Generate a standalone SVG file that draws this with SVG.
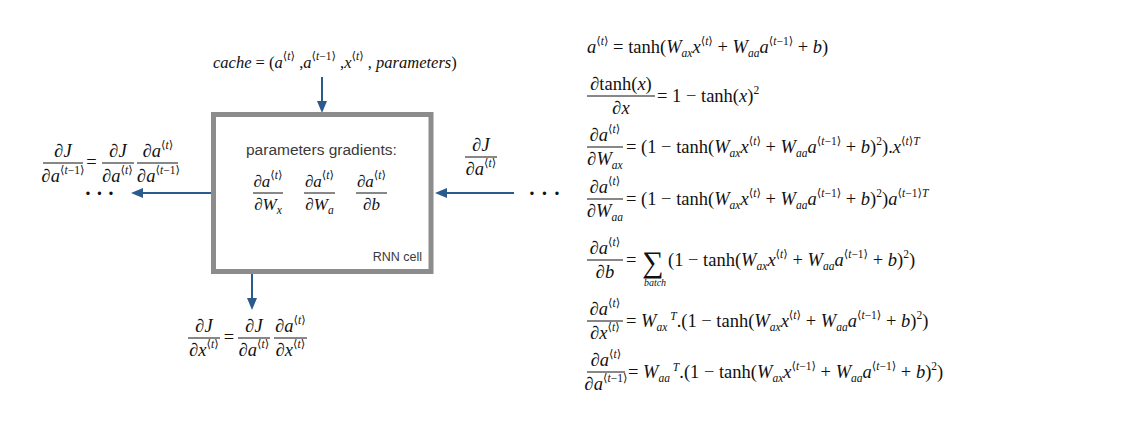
<svg xmlns="http://www.w3.org/2000/svg" width="1137" height="429" viewBox="0 0 1137 429">
<defs>
<style>
.m{font-family:"Liberation Serif","DejaVu Sans",serif;font-size:18.5px;fill:#111}
.f17{font-size:17px}
.f16{font-size:16.5px}
.f10{font-size:10px}
.f28{font-size:30px}
.i{font-style:italic}
.n{font-style:normal}
.s{font-size:11.5px}
.fr{stroke:#111;stroke-width:1}
.ar{stroke:#2b5a8c;stroke-width:2;fill:none;marker-end:url(#ah)}
.sf{font-family:"Liberation Sans","DejaVu Sans",sans-serif;fill:#3a3a3a}
.dots{font-family:"Liberation Sans",sans-serif;font-size:12.5px;fill:#111}
</style>
<marker id="ah" viewBox="0 0 12 10" refX="4" refY="5" markerWidth="12" markerHeight="10" markerUnits="userSpaceOnUse" orient="auto">
<path d="M0,0 L12,5 L0,10 z" fill="#2b5a8c"/>
</marker>
</defs>
<rect width="1137" height="429" fill="#fff"/>

<g id="connectors">
<line class="ar" x1="322" y1="77" x2="322" y2="105"/>
<line class="ar" x1="211" y1="193" x2="139" y2="193"/>
<line class="ar" x1="514" y1="193" x2="443" y2="193"/>
<line class="ar" x1="252" y1="274" x2="252" y2="302"/>
</g>

<g id="rnn-cell">
<rect x="213.5" y="114.5" width="217.5" height="157" fill="#fff" stroke="#8c8c8c" stroke-width="5"/>
<text class="sf" x="246" y="155" font-size="15.5">parameters gradients:</text>
<text class="m f17" x="268" y="187" text-anchor="middle">∂<tspan class="i">a</tspan><tspan class="s" dy="-8">⟨<tspan class="i">t</tspan>⟩</tspan></text>
<line class="fr" x1="253" y1="193" x2="283" y2="193"/>
<text class="m f17" x="268" y="210" text-anchor="middle">∂<tspan class="i">W</tspan><tspan class="s i" dy="4">x</tspan></text>
<text class="m f17" x="319.5" y="187" text-anchor="middle">∂<tspan class="i">a</tspan><tspan class="s" dy="-8">⟨<tspan class="i">t</tspan>⟩</tspan></text>
<line class="fr" x1="304" y1="193" x2="335" y2="193"/>
<text class="m f17" x="319.5" y="210" text-anchor="middle">∂<tspan class="i">W</tspan><tspan class="s i" dy="4">a</tspan></text>
<text class="m f17" x="371.5" y="187" text-anchor="middle">∂<tspan class="i">a</tspan><tspan class="s" dy="-8">⟨<tspan class="i">t</tspan>⟩</tspan></text>
<line class="fr" x1="356" y1="193" x2="387" y2="193"/>
<text class="m f17" x="371.5" y="210" text-anchor="middle">∂<tspan class="i">b</tspan></text>
<text class="sf" x="422" y="261" font-size="12.5" text-anchor="end" fill="#444">RNN cell</text>
</g>

<g id="label-cache">
<text class="m f16 i" x="213" y="68">cache<tspan class="n"> = (</tspan>a<tspan class="s n" dy="-8">⟨<tspan class="i">t</tspan>⟩</tspan><tspan class="n" dy="8"> ,</tspan>a<tspan class="s n" dy="-8">⟨<tspan class="i">t</tspan>−1⟩</tspan><tspan class="n" dy="8"> ,</tspan>x<tspan class="s n" dy="-8">⟨<tspan class="i">t</tspan>⟩</tspan><tspan class="n" dy="8"> ,</tspan> parameters<tspan class="n">)</tspan></text>
</g>

<g id="label-left">
<text class="m" x="63" y="157" text-anchor="middle">∂<tspan class="i">J</tspan></text>
<line class="fr" x1="43" y1="163" x2="83" y2="163"/>
<text class="m" x="63" y="182" text-anchor="middle">∂<tspan class="i">a</tspan><tspan class="s" dy="-8">⟨<tspan class="i">t</tspan>−1⟩</tspan></text>
<text class="m" x="91.5" y="168" text-anchor="middle">=</text>
<text class="m" x="118" y="157" text-anchor="middle">∂<tspan class="i">J</tspan></text>
<line class="fr" x1="102" y1="163" x2="134" y2="163"/>
<text class="m" x="117.5" y="182" text-anchor="middle">∂<tspan class="i">a</tspan><tspan class="s" dy="-8">⟨<tspan class="i">t</tspan>⟩</tspan></text>
<text class="m" x="158" y="157" text-anchor="middle">∂<tspan class="i">a</tspan><tspan class="s" dy="-8">⟨<tspan class="i">t</tspan>⟩</tspan></text>
<line class="fr" x1="137" y1="163" x2="178" y2="163"/>
<text class="m" x="158.5" y="182" text-anchor="middle">∂<tspan class="i">a</tspan><tspan class="s" dy="-8">⟨<tspan class="i">t</tspan>−1⟩</tspan></text>
<text class="dots" x="88 99.5 111" y="197.5" text-anchor="middle">•••</text>
</g>

<g id="label-right">
<text class="m" x="481" y="151" text-anchor="middle">∂<tspan class="i">J</tspan></text>
<line class="fr" x1="465" y1="157" x2="497" y2="157"/>
<text class="m" x="481" y="175" text-anchor="middle">∂<tspan class="i">a</tspan><tspan class="s" dy="-8">⟨<tspan class="i">t</tspan>⟩</tspan></text>
<text class="dots" x="532 544.5 557" y="197.5" text-anchor="middle">•••</text>
</g>

<g id="label-bottom">
<text class="m" x="204" y="332" text-anchor="middle">∂<tspan class="i">J</tspan></text>
<line class="fr" x1="188" y1="338" x2="220" y2="338"/>
<text class="m" x="204" y="356" text-anchor="middle">∂<tspan class="i">x</tspan><tspan class="s" dy="-8">⟨<tspan class="i">t</tspan>⟩</tspan></text>
<text class="m" x="229" y="343" text-anchor="middle">=</text>
<text class="m" x="254" y="332" text-anchor="middle">∂<tspan class="i">J</tspan></text>
<line class="fr" x1="238" y1="338" x2="270" y2="338"/>
<text class="m" x="254" y="356" text-anchor="middle">∂<tspan class="i">a</tspan><tspan class="s" dy="-8">⟨<tspan class="i">t</tspan>⟩</tspan></text>
<text class="m" x="290.5" y="332" text-anchor="middle">∂<tspan class="i">a</tspan><tspan class="s" dy="-8">⟨<tspan class="i">t</tspan>⟩</tspan></text>
<line class="fr" x1="274" y1="338" x2="307" y2="338"/>
<text class="m" x="290.5" y="356" text-anchor="middle">∂<tspan class="i">x</tspan><tspan class="s" dy="-8">⟨<tspan class="i">t</tspan>⟩</tspan></text>
</g>

<g id="equations">
<text class="m" x="587" y="53"><tspan class="i">a</tspan><tspan class="s" dy="-8">⟨<tspan class="i">t</tspan>⟩</tspan><tspan dy="8"> = tanh(</tspan><tspan class="i">W</tspan><tspan class="s i" dy="4">ax</tspan><tspan class="i" dy="-4">x</tspan><tspan class="s" dy="-8">⟨<tspan class="i">t</tspan>⟩</tspan><tspan dy="8"> + </tspan><tspan class="i">W</tspan><tspan class="s i" dy="4">aa</tspan><tspan class="i" dy="-4">a</tspan><tspan class="s" dy="-8">⟨<tspan class="i">t</tspan>−1⟩</tspan><tspan dy="8"> + </tspan><tspan class="i">b</tspan>)</text>

<text class="m" x="621" y="90" text-anchor="middle">∂tanh(<tspan class="i">x</tspan>)</text>
<line class="fr" x1="587" y1="96" x2="655" y2="96"/>
<text class="m" x="621" y="114" text-anchor="middle">∂<tspan class="i">x</tspan></text>
<text class="m" x="657" y="102">= 1 − tanh(<tspan class="i">x</tspan>)<tspan class="s" dy="-8">2</tspan></text>

<text class="m" x="605" y="141" text-anchor="middle">∂<tspan class="i">a</tspan><tspan class="s" dy="-8">⟨<tspan class="i">t</tspan>⟩</tspan></text>
<line class="fr" x1="587" y1="147" x2="623" y2="147"/>
<text class="m" x="605" y="165" text-anchor="middle">∂<tspan class="i">W</tspan><tspan class="s i" dy="4">ax</tspan></text>
<text class="m" x="626" y="153">= (1 − tanh(<tspan class="i">W</tspan><tspan class="s i" dy="4">ax</tspan><tspan class="i" dy="-4">x</tspan><tspan class="s" dy="-8">⟨<tspan class="i">t</tspan>⟩</tspan><tspan dy="8"> + </tspan><tspan class="i">W</tspan><tspan class="s i" dy="4">aa</tspan><tspan class="i" dy="-4">a</tspan><tspan class="s" dy="-8">⟨<tspan class="i">t</tspan>−1⟩</tspan><tspan dy="8"> + </tspan><tspan class="i">b</tspan>)<tspan class="s" dy="-8">2</tspan><tspan dy="8">).</tspan><tspan class="i">x</tspan><tspan class="s" dy="-8">⟨<tspan class="i">t</tspan>⟩<tspan class="i">T</tspan></tspan></text>

<text class="m" x="605" y="193" text-anchor="middle">∂<tspan class="i">a</tspan><tspan class="s" dy="-8">⟨<tspan class="i">t</tspan>⟩</tspan></text>
<line class="fr" x1="587" y1="199" x2="623" y2="199"/>
<text class="m" x="605" y="217" text-anchor="middle">∂<tspan class="i">W</tspan><tspan class="s i" dy="4">aa</tspan></text>
<text class="m" x="626" y="205">= (1 − tanh(<tspan class="i">W</tspan><tspan class="s i" dy="4">ax</tspan><tspan class="i" dy="-4">x</tspan><tspan class="s" dy="-8">⟨<tspan class="i">t</tspan>⟩</tspan><tspan dy="8"> + </tspan><tspan class="i">W</tspan><tspan class="s i" dy="4">aa</tspan><tspan class="i" dy="-4">a</tspan><tspan class="s" dy="-8">⟨<tspan class="i">t</tspan>−1⟩</tspan><tspan dy="8"> + </tspan><tspan class="i">b</tspan>)<tspan class="s" dy="-8">2</tspan><tspan dy="8">)</tspan><tspan class="i">a</tspan><tspan class="s" dy="-8">⟨<tspan class="i">t</tspan>−1⟩<tspan class="i">T</tspan></tspan></text>

<text class="m" x="605" y="254" text-anchor="middle">∂<tspan class="i">a</tspan><tspan class="s" dy="-8">⟨<tspan class="i">t</tspan>⟩</tspan></text>
<line class="fr" x1="587" y1="260" x2="623" y2="260"/>
<text class="m" x="605" y="278" text-anchor="middle">∂<tspan class="i">b</tspan></text>
<text class="m" x="626" y="266">=</text>
<text class="m f28" x="653" y="272" text-anchor="middle">∑</text>
<text class="m f10 i" x="655" y="286" text-anchor="middle">batch</text>
<text class="m" x="668" y="266">(1 − tanh(<tspan class="i">W</tspan><tspan class="s i" dy="4">ax</tspan><tspan class="i" dy="-4">x</tspan><tspan class="s" dy="-8">⟨<tspan class="i">t</tspan>⟩</tspan><tspan dy="8"> + </tspan><tspan class="i">W</tspan><tspan class="s i" dy="4">aa</tspan><tspan class="i" dy="-4">a</tspan><tspan class="s" dy="-8">⟨<tspan class="i">t</tspan>−1⟩</tspan><tspan dy="8"> + </tspan><tspan class="i">b</tspan>)<tspan class="s" dy="-8">2</tspan><tspan dy="8">)</tspan></text>

<text class="m" x="605" y="315" text-anchor="middle">∂<tspan class="i">a</tspan><tspan class="s" dy="-8">⟨<tspan class="i">t</tspan>⟩</tspan></text>
<line class="fr" x1="587" y1="321" x2="623" y2="321"/>
<text class="m" x="605" y="339" text-anchor="middle">∂<tspan class="i">x</tspan><tspan class="s" dy="-8">⟨<tspan class="i">t</tspan>⟩</tspan></text>
<text class="m" x="626" y="327">= <tspan class="i">W</tspan><tspan class="s i" dy="4">ax</tspan><tspan class="s i" dy="-11"> T</tspan><tspan dy="7">.(1 − tanh(</tspan><tspan class="i">W</tspan><tspan class="s i" dy="4">ax</tspan><tspan class="i" dy="-4">x</tspan><tspan class="s" dy="-8">⟨<tspan class="i">t</tspan>⟩</tspan><tspan dy="8"> + </tspan><tspan class="i">W</tspan><tspan class="s i" dy="4">aa</tspan><tspan class="i" dy="-4">a</tspan><tspan class="s" dy="-8">⟨<tspan class="i">t</tspan>−1⟩</tspan><tspan dy="8"> + </tspan><tspan class="i">b</tspan>)<tspan class="s" dy="-8">2</tspan><tspan dy="8">)</tspan></text>

<text class="m" x="606" y="366" text-anchor="middle">∂<tspan class="i">a</tspan><tspan class="s" dy="-8">⟨<tspan class="i">t</tspan>⟩</tspan></text>
<line class="fr" x1="587" y1="372" x2="625" y2="372"/>
<text class="m" x="606" y="390" text-anchor="middle">∂<tspan class="i">a</tspan><tspan class="s" dy="-8">⟨<tspan class="i">t</tspan>−1⟩</tspan></text>
<text class="m" x="628" y="378">= <tspan class="i">W</tspan><tspan class="s i" dy="4">aa</tspan><tspan class="s i" dy="-11"> T</tspan><tspan dy="7">.(1 − tanh(</tspan><tspan class="i">W</tspan><tspan class="s i" dy="4">ax</tspan><tspan class="i" dy="-4">x</tspan><tspan class="s" dy="-8">⟨<tspan class="i">t</tspan>−1⟩</tspan><tspan dy="8"> + </tspan><tspan class="i">W</tspan><tspan class="s i" dy="4">aa</tspan><tspan class="i" dy="-4">a</tspan><tspan class="s" dy="-8">⟨<tspan class="i">t</tspan>−1⟩</tspan><tspan dy="8"> + </tspan><tspan class="i">b</tspan>)<tspan class="s" dy="-8">2</tspan><tspan dy="8">)</tspan></text>
</g>
</svg>
